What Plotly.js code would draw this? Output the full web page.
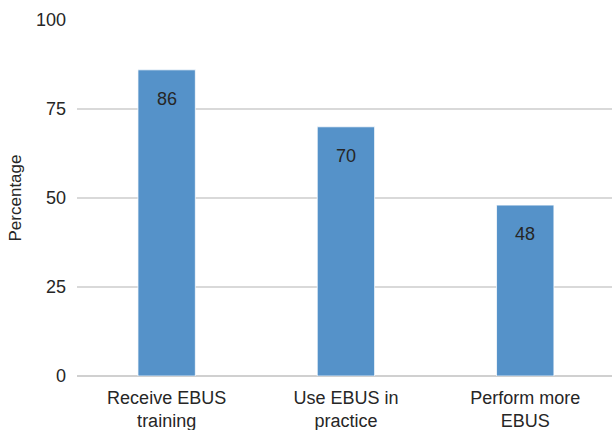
<!DOCTYPE html>
<html>
<head>
<meta charset="utf-8">
<script src="https://cdn.plot.ly/plotly-3.0.1.min.js"></script>
<style>
  html, body { margin: 0; padding: 0; background: #fff; overflow: hidden; }
  #chart { width: 612px; height: 430px; }
</style>
</head>
<body>
<div id="chart"></div>
<script>
// Survey responses (percentage of respondents)
const categories = ['Receive EBUS<br>training', 'Use EBUS in<br>practice', 'Perform more<br>EBUS'];
const percentages = [86, 70, 48];
const yTickValues = [0, 25, 50, 75, 100];

const barColor = '#5592c9';
const textColor = '#262626';
const fontFamily = '"Liberation Sans", Arial, Helvetica, sans-serif';

const trace = {
  type: 'bar',
  x: categories,
  y: percentages,
  width: 0.32,
  marker: { color: barColor, line: { color: 'rgba(255,255,255,0.75)', width: 1 } },
  hoverinfo: 'none'
};

// value labels placed just inside the top of each bar
const annotations = categories.map((c, i) => ({
  x: c,
  y: percentages[i],
  xref: 'x',
  yref: 'y',
  text: String(percentages[i]),
  showarrow: false,
  yanchor: 'top',
  yshift: -17,
  font: { family: fontFamily, size: 18, color: textColor }
}));

const layout = {
  width: 612,
  height: 430,
  margin: { l: 77, r: 0, t: 20, b: 54 },
  paper_bgcolor: '#ffffff',
  plot_bgcolor: '#ffffff',
  font: { family: fontFamily, size: 18, color: textColor },
  showlegend: false,
  bargap: 0.68,
  xaxis: {
    type: 'category',
    range: [-0.5, 2.484],
    showgrid: false,
    showline: false,
    zeroline: false,
    ticks: '',
    ticklabelstandoff: 9,
    tickfont: { family: fontFamily, size: 18, color: textColor },
    fixedrange: true
  },
  yaxis: {
    range: [0, 100],
    tickvals: yTickValues,
    ticktext: yTickValues.map(String),
    showgrid: true,
    gridcolor: '#d9d9d9',
    gridwidth: 1.5,
    zeroline: true,
    zerolinecolor: '#d0d0d0',
    zerolinewidth: 2,
    showline: false,
    ticks: '',
    ticklabelstandoff: 10,
    tickfont: { family: fontFamily, size: 18, color: textColor },
    title: {
      text: 'Percentage',
      standoff: 10,
      font: { family: fontFamily, size: 17, color: textColor }
    },
    fixedrange: true
  },
  annotations: annotations
};

Plotly.newPlot('chart', [trace], layout, { displayModeBar: false, staticPlot: true });
</script>
</body>
</html>
